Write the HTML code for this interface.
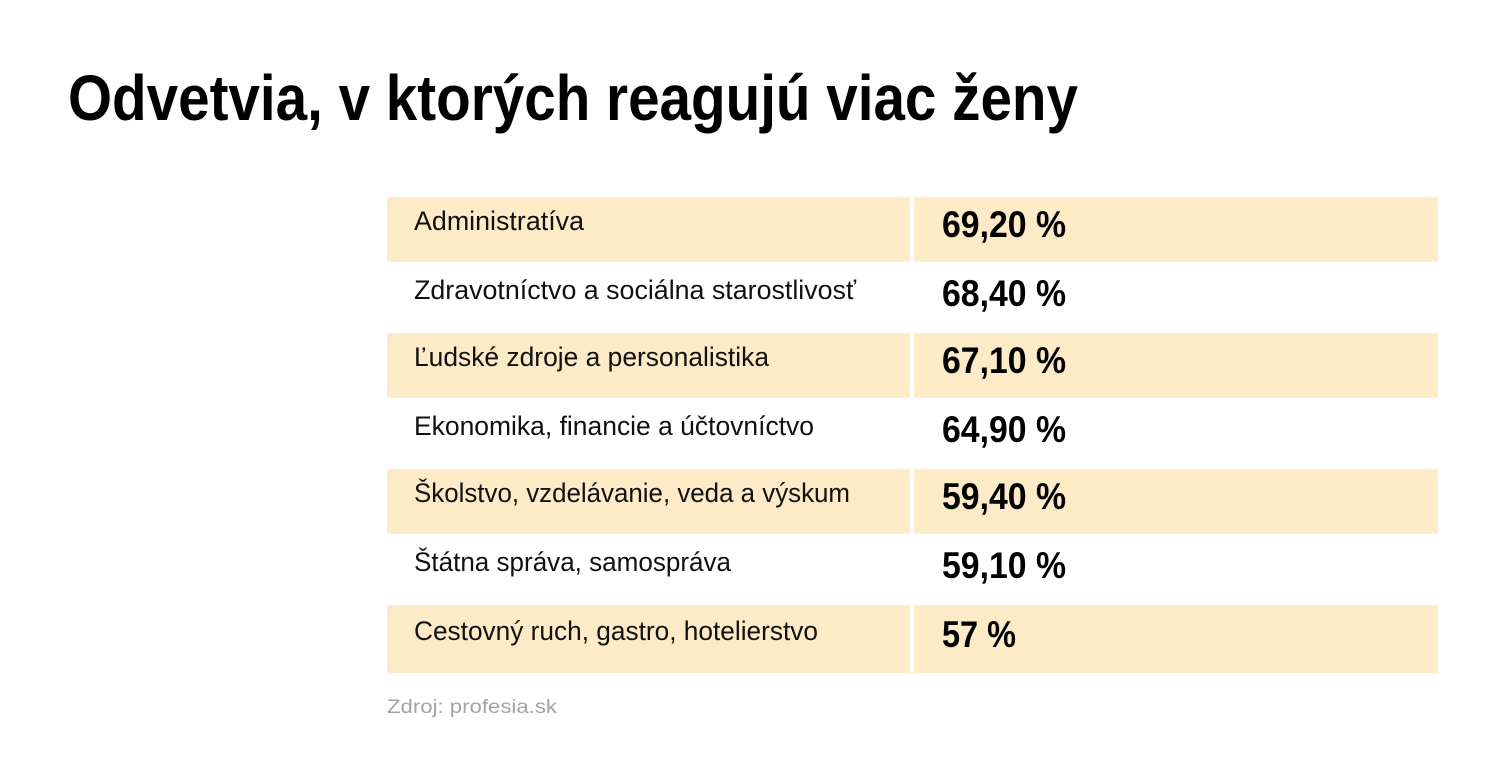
<!DOCTYPE html>
<html><head><meta charset="utf-8"><style>html,body{margin:0;padding:0;background:#fff;width:1500px;height:770px;overflow:hidden}</style></head>
<body>
<svg width="1500" height="770" xmlns="http://www.w3.org/2000/svg" font-family="'Liberation Sans', sans-serif">
<text x="68" y="120" font-size="64" font-weight="bold" fill="#000" textLength="1010" lengthAdjust="spacingAndGlyphs">Odvetvia, v ktorých reagujú viac ženy</text>
<g fill="#fdeac6">
<rect x="387" y="197" width="523" height="65"/><rect x="914" y="197" width="524" height="65"/>
<rect x="387" y="333" width="523" height="65"/><rect x="914" y="333" width="524" height="65"/>
<rect x="387" y="469" width="523" height="65"/><rect x="914" y="469" width="524" height="65"/>
<rect x="387" y="605" width="523" height="68"/><rect x="914" y="605" width="524" height="68"/>
</g>
<g font-size="27" fill="#111">
<text x="414" y="230" textLength="170" lengthAdjust="spacingAndGlyphs">Administratíva</text>
<text x="414" y="299" textLength="442" lengthAdjust="spacingAndGlyphs">Zdravotníctvo a sociálna starostlivosť</text>
<text x="414" y="366" textLength="355" lengthAdjust="spacingAndGlyphs">Ľudské zdroje a personalistika</text>
<text x="414" y="435" textLength="400" lengthAdjust="spacingAndGlyphs">Ekonomika, financie a účtovníctvo</text>
<text x="414" y="502" textLength="436" lengthAdjust="spacingAndGlyphs">Školstvo, vzdelávanie, veda a výskum</text>
<text x="414" y="571" textLength="317" lengthAdjust="spacingAndGlyphs">Štátna správa, samospráva</text>
<text x="414" y="640" textLength="404" lengthAdjust="spacingAndGlyphs">Cestovný ruch, gastro, hotelierstvo</text>
</g>
<g font-size="37" font-weight="bold" fill="#000">
<text x="942" y="237" textLength="124" lengthAdjust="spacingAndGlyphs">69,20 %</text>
<text x="942" y="306" textLength="124" lengthAdjust="spacingAndGlyphs">68,40 %</text>
<text x="942" y="373" textLength="124" lengthAdjust="spacingAndGlyphs">67,10 %</text>
<text x="942" y="442" textLength="124" lengthAdjust="spacingAndGlyphs">64,90 %</text>
<text x="942" y="509" textLength="124" lengthAdjust="spacingAndGlyphs">59,40 %</text>
<text x="942" y="578" textLength="124" lengthAdjust="spacingAndGlyphs">59,10 %</text>
<text x="942" y="647" textLength="74" lengthAdjust="spacingAndGlyphs">57 %</text>
</g>
<text x="387" y="713" font-size="19" fill="#a3a3a3" textLength="170" lengthAdjust="spacingAndGlyphs">Zdroj: profesia.sk</text>
</svg>
</body></html>
